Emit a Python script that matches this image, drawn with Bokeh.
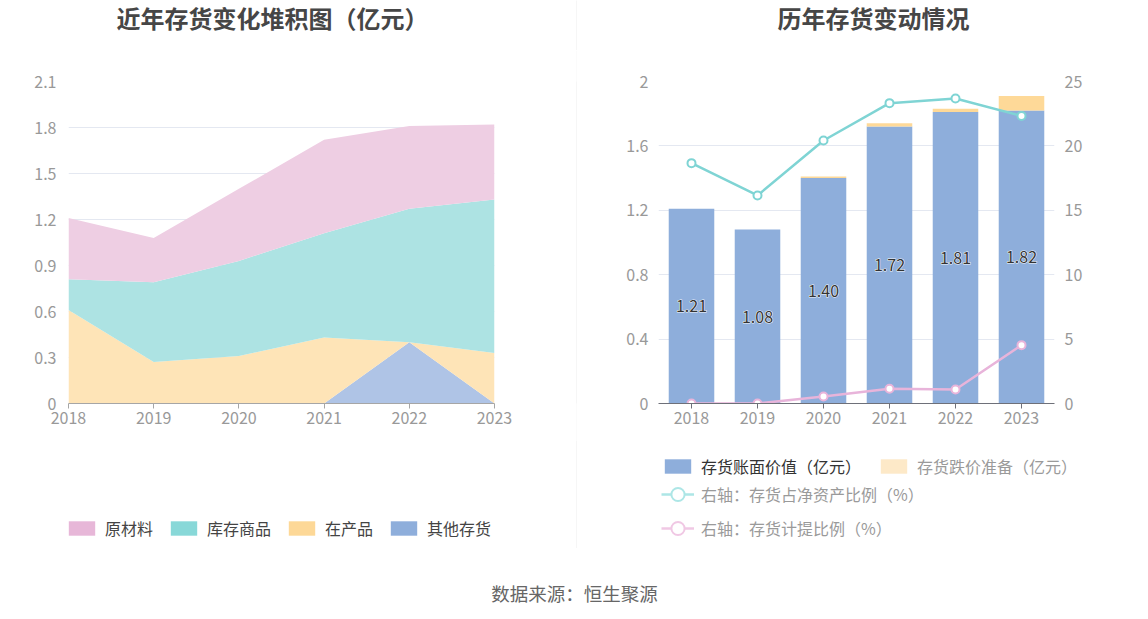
from bokeh.plotting import figure
from bokeh.models import (ColumnDataSource, Range1d, FactorRange, LinearAxis, FixedTicker,
                          Legend, LegendItem, Label)
from bokeh.layouts import row, column
from bokeh.core.properties import value
from bokeh.embed import file_html
from bokeh.resources import INLINE

FONT = "Noto Sans CJK SC"

# ---------------- data ----------------
years = ["2018", "2019", "2020", "2021", "2022", "2023"]
year_nums = [2018, 2019, 2020, 2021, 2022, 2023]

# left: stacked inventory composition (亿元)
raw_material = [0.40, 0.29, 0.47, 0.61, 0.54, 0.49]   # 原材料
goods_stock = [0.20, 0.52, 0.62, 0.68, 0.87, 1.00]    # 库存商品
wip = [0.61, 0.27, 0.31, 0.43, 0.00, 0.33]            # 在产品
other_stock = [0.00, 0.00, 0.00, 0.00, 0.40, 0.00]    # 其他存货

# right
book_value = [1.21, 1.08, 1.40, 1.72, 1.81, 1.82]     # 存货账面价值（亿元）
provision = [0.00, 0.00, 0.01, 0.02, 0.02, 0.09]      # 存货跌价准备（亿元）
ratio_net = [18.66, 16.15, 20.42, 23.32, 23.68, 22.33]  # 存货占净资产比例（%）
ratio_prov = [0.00, 0.00, 0.54, 1.14, 1.09, 4.53]       # 存货计提比例（%）

y1_ticks = [0, 0.3, 0.6, 0.9, 1.2, 1.5, 1.8, 2.1]
y1_labels = ["0", "0.3", "0.6", "0.9", "1.2", "1.5", "1.8", "2.1"]
y2_ticks = [0, 0.4, 0.8, 1.2, 1.6, 2.0]
y2_labels = ["0", "0.4", "0.8", "1.2", "1.6", "2"]
y3_ticks = [0, 5, 10, 15, 20, 25]
y3_labels = ["0", "5", "10", "15", "20", "25"]

left_legend_names = ["原材料", "库存商品", "在产品", "其他存货"]
right_legend_names = ["存货账面价值（亿元）", "存货跌价准备（亿元）",
                      "右轴：存货占净资产比例（%）", "右轴：存货计提比例（%）"]
left_title = "近年存货变化堆积图（亿元）"
right_title = "历年存货变动情况"
source_text = "数据来源：恒生聚源"

AXIS_LABEL = "#999999"
GRID = "#e4e8f1"
LW, RW = 576, 564          # column widths
TH, PH, LH = 50, 390, 108  # title / plot / legend heights


def blank(width, height, bg="white"):
    f = figure(width=width, height=height, x_range=Range1d(0, 1), y_range=Range1d(0, 1),
               output_backend="svg", toolbar_location=None, min_border=0,
               x_axis_location=None, y_axis_location=None)
    f.grid.visible = False
    f.outline_line_color = None
    f.background_fill_color = bg
    f.border_fill_color = bg
    return f


def style_common(p):
    p.outline_line_color = None
    p.xgrid.visible = False
    for ax in p.axis:
        ax.major_label_text_font = FONT
        ax.major_label_text_font_size = "16px"
        ax.major_label_text_color = AXIS_LABEL
        ax.minor_tick_line_color = None


def legend(items, loc, color, gh=18, **kw):
    return Legend(items=items, location=loc, glyph_width=33, glyph_height=gh, label_height=18,
                  label_standoff=7, padding=0, margin=0, border_line_color=None,
                  background_fill_alpha=0, label_text_font=FONT, label_text_font_size="16px",
                  label_text_color=color, **kw)


def title_label(x, text):
    return Label(x=x, y=33, x_units="screen", y_units="screen", text=text,
                 text_align="center", text_baseline="middle", text_font=FONT,
                 text_font_size="24px", text_font_style="bold", text_color="#464646")


# ---------------- titles ----------------
t1 = blank(LW, TH)
t1.add_layout(title_label(272, left_title))
t2 = blank(RW, TH)
t2.add_layout(title_label(296, right_title))

# ---------------- left figure ----------------
p1 = figure(width=LW, height=PH, x_range=Range1d(2018, 2023), y_range=Range1d(0, 2.1),
            output_backend="svg", toolbar_location=None,
            min_border_left=68, min_border_right=82, min_border_top=31, min_border_bottom=37)
style_common(p1)

src1 = ColumnDataSource(dict(x=year_nums, other=other_stock, wip=wip,
                             goods=goods_stock, raw=raw_material))
p1.varea_stack(["other", "wip", "goods", "raw"], x="x", source=src1,
               fill_color=["#afc4e6", "#fee4b7", "#ade3e3", "#eecee3"], fill_alpha=1.0)

p1.xaxis.ticker = FixedTicker(ticks=year_nums)
p1.xaxis.major_label_overrides = {n: y for n, y in zip(year_nums, years)}
p1.xaxis.axis_line_color = "#a6a6a6"
p1.xaxis.major_tick_line_color = "#a6a6a6"
p1.xaxis.major_tick_out = 5
p1.xaxis.major_tick_in = 0
p1.xaxis.major_label_standoff = 3

p1.yaxis.ticker = FixedTicker(ticks=y1_ticks)
p1.yaxis.major_label_overrides = {t: l for t, l in zip(y1_ticks, y1_labels)}
p1.yaxis.axis_line_color = None
p1.yaxis.major_tick_line_color = None
p1.yaxis.major_tick_out = 0
p1.yaxis.major_label_standoff = 12
p1.ygrid.ticker = FixedTicker(ticks=y1_ticks)
p1.ygrid.grid_line_color = GRID

# ---------------- right figure ----------------
p2 = figure(width=RW, height=PH, x_range=FactorRange(factors=years), y_range=Range1d(0, 2),
            output_backend="svg", toolbar_location=None,
            min_border_left=81, min_border_right=87, min_border_top=31, min_border_bottom=37)
p2.extra_y_ranges = {"pct": Range1d(0, 25)}
p2.add_layout(LinearAxis(y_range_name="pct", ticker=FixedTicker(ticks=y3_ticks),
                         major_label_overrides={t: l for t, l in zip(y3_ticks, y3_labels)}),
              "right")
style_common(p2)

src2 = ColumnDataSource(dict(year=years, book=book_value, prov=provision,
                             rnet=ratio_net, rprov=ratio_prov,
                             label_y=[v / 2 for v in book_value],
                             label=["%.2f" % v for v in book_value]))
p2.vbar_stack(["book", "prov"], x="year", width=0.69, source=src2,
              fill_color=["#8eaedb", "#fed998"], line_color=None)

p2.line(x="year", y="rnet", y_range_name="pct", source=src2, line_color="#7fd4d4", line_width=2.5)
p2.scatter(x="year", y="rnet", y_range_name="pct", source=src2, marker="circle", size=8,
           fill_color="white", line_color="#7fd4d4", line_width=2)
p2.line(x="year", y="rprov", y_range_name="pct", source=src2, line_color="#e8b4da", line_width=2.5)
p2.scatter(x="year", y="rprov", y_range_name="pct", source=src2, marker="circle", size=8,
           fill_color="white", line_color="#e8b4da", line_width=2)

# white halo then dark text
p2.text(x="year", y="label_y", text="label", source=src2, text_align="center",
        text_baseline="middle", text_font=value(FONT), text_font_size="16px",
        text_color="white", text_outline_color="white", text_alpha=0.9)
p2.text(x="year", y="label_y", text="label", source=src2, text_align="center",
        text_baseline="middle", text_font=value(FONT), text_font_size="16px",
        text_color="#333333")

p2.xaxis.axis_line_color = "#6e7079"
p2.xaxis.major_tick_line_color = "#6e7079"
p2.xaxis.major_tick_out = 5
p2.xaxis.major_tick_in = 0
p2.xaxis.major_label_standoff = 3

for ax in p2.yaxis:
    ax.axis_line_color = None
    ax.major_tick_line_color = None
    ax.major_tick_out = 0
    ax.major_label_standoff = 10
p2.yaxis[0].ticker = FixedTicker(ticks=y2_ticks)
p2.yaxis[0].major_label_overrides = {t: l for t, l in zip(y2_ticks, y2_labels)}
p2.ygrid.ticker = FixedTicker(ticks=y2_ticks)
p2.ygrid.grid_line_color = GRID

# ---------------- legends (legend glyphs drawn from the same data, outside the view) ----------
l1 = blank(LW, LH)
lr = [l1.varea(x="x", y1=0, y2=col, source=src1, fill_color=c)
      for col, c in zip(["raw", "goods", "wip", "other"],
                        ["#e7b7d8", "#88d8d8", "#fdd897", "#8eaedb"])]
l1.add_layout(legend([LegendItem(label=n, renderers=[r]) for n, r in zip(left_legend_names, lr)],
                     (65, 8), "#444444", orientation="horizontal", spacing=14))

l2 = blank(RW, LH)
d_book = l2.vbar(x="rnet", top="book", width=0.5, source=src2, fill_color="#8eaedb",
                 line_color=None)
d_prov = l2.vbar(x="rnet", top="prov", width=0.5, source=src2, fill_color="#fde9c8",
                 line_color=None)
d_l1 = l2.line(x="rnet", y="book", source=src2, line_color="#ade6e6", line_width=2.5)
d_s1 = l2.scatter(x="rnet", y="book", source=src2, marker="circle", fill_color="white",
                  line_color="#ade6e6", line_width=2)
d_l2 = l2.line(x="rnet", y="book", source=src2, line_color="#f0c8e4", line_width=2.5)
d_s2 = l2.scatter(x="rnet", y="book", source=src2, marker="circle", fill_color="white",
                  line_color="#f0c8e4", line_width=2)
l2.add_layout(legend([LegendItem(label=right_legend_names[0], renderers=[d_book])],
                     (84, 70), "#333333"))
l2.add_layout(legend([LegendItem(label=right_legend_names[1], renderers=[d_prov])],
                     (300, 70), "#9a9a9a"))
l2.add_layout(legend([LegendItem(label=right_legend_names[2], renderers=[d_l1, d_s1]),
                      LegendItem(label=right_legend_names[3], renderers=[d_l2, d_s2])],
                     (84, 3), "#9a9a9a", gh=34, spacing=-6))

# ---------------- divider & source ----------------
divs = [blank(1, h, bg="#eeeeee") for h in (TH, PH, LH)]

p3 = blank(1132, 64)
p3.add_layout(Label(x=574, y=20, x_units="screen", y_units="screen", text=source_text,
                    text_align="center", text_baseline="middle", text_font=FONT,
                    text_font_size="18.5px", text_color="#666666"))

layout = column(row(t1, divs[0], t2), row(p1, divs[1], p2), row(l1, divs[2], l2), p3)
open("out.html", "w").write(file_html(layout, INLINE))
